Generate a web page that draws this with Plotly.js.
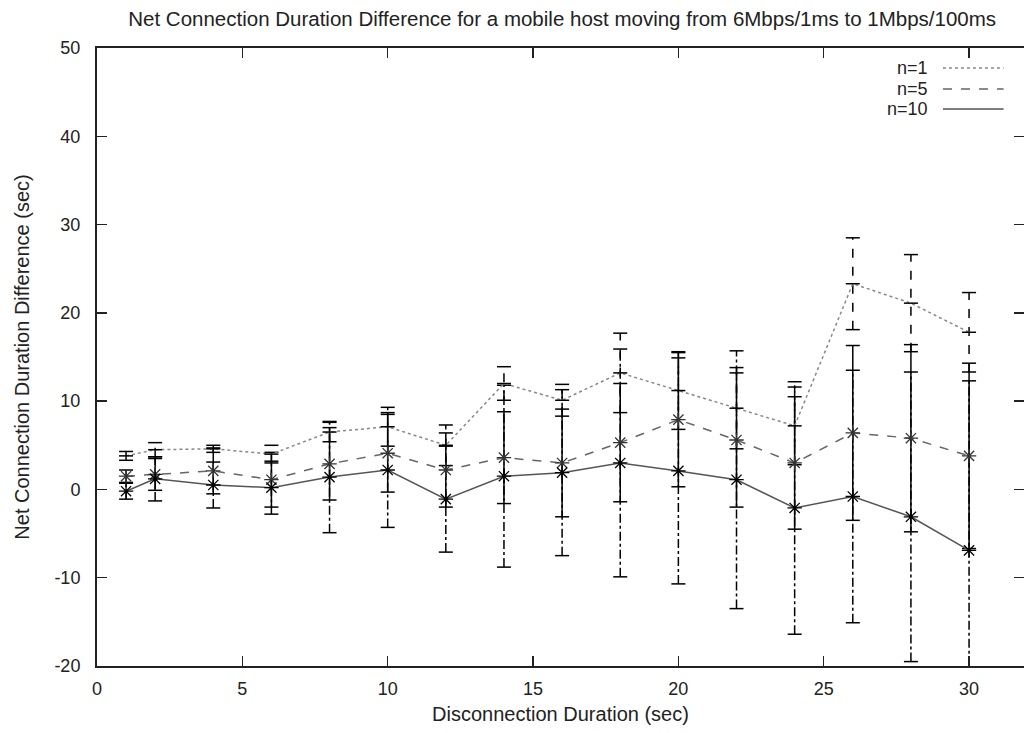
<!DOCTYPE html>
<html>
<head>
<meta charset="utf-8">
<script src="https://cdn.plot.ly/plotly-3.0.1.min.js"></script>
<style>
html,body{margin:0;padding:0;background:#fff;}
#chart{width:1024px;height:733px;}
</style>
</head>
<body>
<div id="chart"></div>
<script>
// Disconnection duration (sec)
const durations = [1, 2, 4, 6, 8, 10, 12, 14, 16, 18, 20, 22, 24, 26, 28, 30];

// n=1
const n1Mean = [3.8, 4.5, 4.6, 4.0, 6.5, 7.1, 5.0, 12.0, 10.1, 13.2, 11.2, 9.2, 7.2, 23.3, 21.1, 17.8];
const n1Err  = [0.5, 0.8, 0.4, 1.0, 1.1, 2.2, 2.3, 1.9, 1.8, 4.5, 4.4, 4.6, 4.4, 5.2, 5.5, 4.5];

// n=5
const n5Mean = [1.5, 1.7, 2.1, 1.1, 2.9, 4.1, 2.2, 3.6, 3.0, 5.3, 7.9, 5.6, 3.0, 6.4, 5.8, 3.8];
const n5Err  = [0.7, 1.8, 2.6, 3.1, 4.1, 4.4, 4.2, 5.2, 6.1, 6.7, 7.6, 7.6, 7.5, 9.9, 10.6, 10.5];

// n=10
const n10Mean = [-0.2, 1.2, 0.5, 0.2, 1.4, 2.2, -1.1, 1.5, 1.9, 3.0, 2.1, 1.1, -2.1, -0.8, -3.1, -6.9];
const n10Err  = [0.9, 2.5, 2.6, 3.0, 6.3, 6.5, 6.0, 10.3, 9.4, 12.9, 12.8, 14.6, 14.3, 14.3, 16.4, 19.2];

const seriesNames = ["n=1", "n=5", "n=10"];
const xTicks = [0, 5, 10, 15, 20, 25, 30];
const yTicks = [-20, -10, 0, 10, 20, 30, 40, 50];

const FONT = "Liberation Sans, Arial, sans-serif";
const TXT = "#222";

function errTraces(x, m, e, dash) {
  const sx = [], sy = [], cx = [], cy = [];
  for (let i = 0; i < x.length; i++) {
    sx.push(x[i], x[i], null);
    sy.push(m[i] - e[i], m[i] + e[i], null);
    cx.push(x[i], x[i]);
    cy.push(m[i] - e[i], m[i] + e[i]);
  }
  return [
    {x: sx, y: sy, mode: "lines", line: {color: "#000", width: 1.5, dash: dash},
     showlegend: false, hoverinfo: "skip"},
    {x: cx, y: cy, mode: "markers",
     marker: {symbol: "line-ew-open", size: 10, color: "#000", line: {color: "#000", width: 1.5}},
     showlegend: false, hoverinfo: "skip"}
  ];
}

const traces = [];
traces.push(...errTraces(durations, n1Mean, n1Err, "dash"));
traces.push(...errTraces(durations, n5Mean, n5Err, "solid"));
traces.push(...errTraces(durations, n10Mean, n10Err, "dashdot"));

traces.push({x: durations, y: n1Mean, name: seriesNames[0], mode: "lines+markers",
  line: {color: "#888", width: 1.5, dash: "dot"},
  marker: {symbol: "line-ew-open", size: 10, color: "#000", line: {color: "#000", width: 1.5}},
  showlegend: false});
traces.push({x: durations, y: n5Mean, name: seriesNames[1], mode: "lines+markers",
  line: {color: "#666", width: 1.5, dash: "dash"},
  marker: {symbol: "asterisk-open", size: 12, color: "#333", line: {color: "#333", width: 1.3}},
  showlegend: false});
traces.push({x: durations, y: n10Mean, name: seriesNames[2], mode: "lines+markers",
  line: {color: "#555", width: 1.5, dash: "solid"},
  marker: {symbol: "asterisk-open", size: 12, color: "#000", line: {color: "#000", width: 1.3}},
  showlegend: false});

// legend drawn gnuplot-style: label then sample line
const legY = [0.9676, 0.9337, 0.9013];
const legDash = ["dot", "dash", "solid"];
const legColor = ["#888", "#666", "#555"];
const annotations = [], shapes = [];
for (let i = 0; i < 3; i++) {
  annotations.push({xref: "paper", yref: "paper", x: 0.8986, y: legY[i], xanchor: "right",
    yanchor: "middle", text: seriesNames[i], showarrow: false,
    font: {family: FONT, size: 18, color: TXT}});
  shapes.push({type: "line", xref: "paper", yref: "paper", x0: 0.9126, x1: 0.978,
    y0: legY[i], y1: legY[i], line: {color: legColor[i], width: 1.5, dash: legDash[i]}});
}

const layout = {
  width: 1024, height: 733,
  margin: {l: 97, r: 0, t: 48, b: 67},
  paper_bgcolor: "#fff", plot_bgcolor: "#fff",
  font: {family: FONT, size: 18, color: TXT},
  title: {text: "Net Connection Duration Difference for a mobile host moving from 6Mbps/1ms to 1Mbps/100ms",
    font: {family: FONT, size: 20.5, color: TXT}, x: 0.549, xanchor: "center", xref: "container",
    y: 0.975, yanchor: "middle"},
  xaxis: {range: [0, 31.89], tickvals: xTicks, ticktext: xTicks.map(String),
    ticks: "inside", ticklen: 10, tickwidth: 1.5, tickcolor: "#222",
    showline: true, linecolor: "#222", linewidth: 2, mirror: "ticks",
    showgrid: false, zeroline: false, ticklabelstandoff: 5,
    tickfont: {family: FONT, size: 18, color: TXT},
    title: {text: "Disconnection Duration (sec)", font: {family: FONT, size: 20, color: TXT}, standoff: 9}},
  yaxis: {range: [-20, 50], tickvals: yTicks, ticktext: yTicks.map(String),
    ticks: "inside", ticklen: 10, tickwidth: 1.5, tickcolor: "#222",
    showline: true, linecolor: "#222", linewidth: 2, mirror: "ticks",
    showgrid: false, zeroline: false, ticklabelstandoff: 11,
    tickfont: {family: FONT, size: 18, color: TXT},
    title: {text: "Net Connection Duration Difference (sec)", font: {family: FONT, size: 20, color: TXT}, standoff: 19}},
  annotations: annotations,
  shapes: shapes,
  showlegend: false
};

Plotly.newPlot("chart", traces, layout, {displayModeBar: false, staticPlot: true});
</script>
</body>
</html>
